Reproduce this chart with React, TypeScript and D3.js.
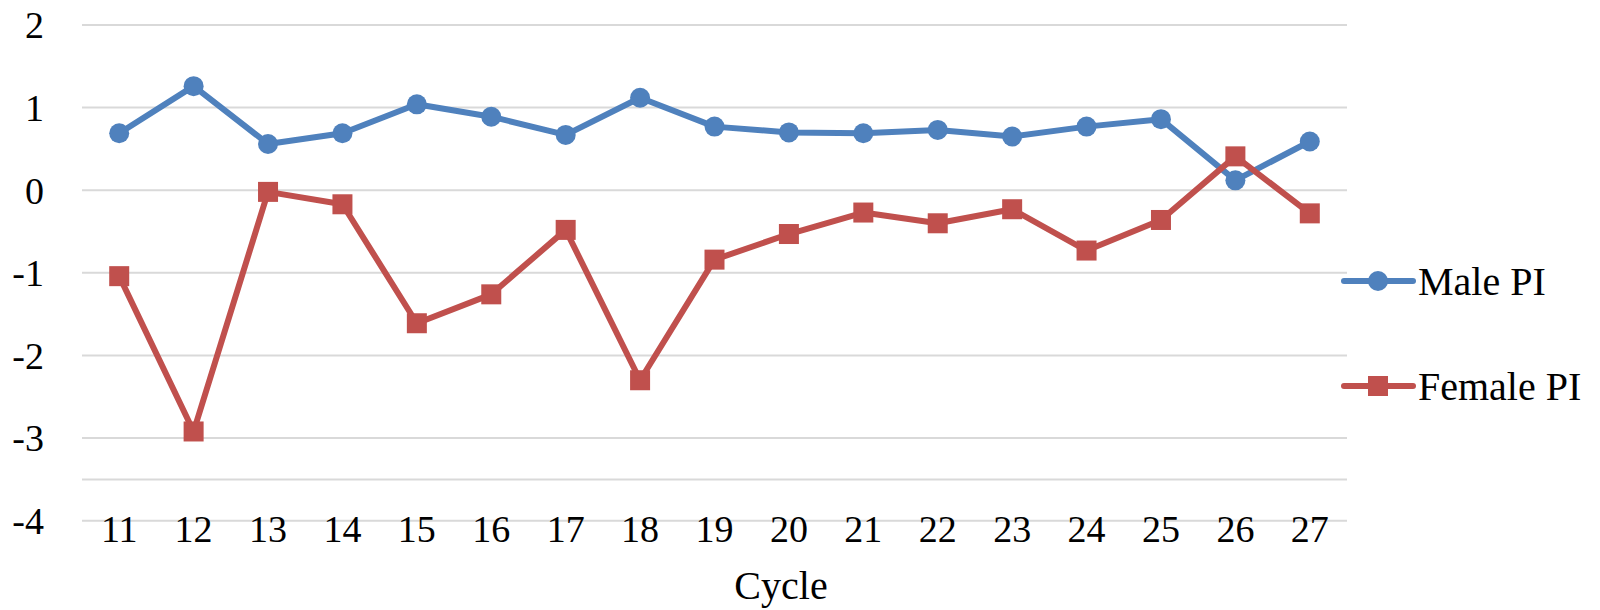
/**
 * Male / Female PI by cycle — line chart with markers, Excel style
 */
import { useEffect, useRef } from 'react';
import * as d3 from 'd3';

const cycles = ['11', '12', '13', '14', '15', '16', '17', '18', '19', '20', '21', '22', '23', '24', '25', '26', '27'];
const malePI = [0.69, 1.26, 0.56, 0.69, 1.04, 0.89, 0.67, 1.12, 0.77, 0.7, 0.69, 0.73, 0.65, 0.77, 0.86, 0.12, 0.59];
const femalePI = [-1.04, -2.92, -0.02, -0.17, -1.61, -1.26, -0.48, -2.3, -0.84, -0.53, -0.27, -0.4, -0.23, -0.73, -0.36, 0.41, -0.28];
const yTicks = [2, 1, 0, -1, -2, -3, -4];
const gridLines = [2, 1, 0, -1, -2, -3, -3.5, -4];

export default function App() {
  const svgRef = useRef<SVGSVGElement>(null);

  useEffect(() => {
    if (!svgRef.current) return;
    const svg = d3.select(svgRef.current);
    svg.selectAll('*').remove();

    const font = 'Liberation Serif, Times New Roman, DejaVu Serif, serif';
    const blue = '#4F81BD', red = '#C0504D';

    const x = d3.scaleBand().domain(cycles).range([82, 1347]).padding(0);
    const cx = (c: string) => (x(c) ?? 0) + x.bandwidth() / 2;
    const y = d3.scaleLinear().domain([-4, 2]).range([520.7, 25]);

    // Gridlines
    svg.append('g').selectAll('line').data(gridLines).enter().append('line')
      .attr('x1', 82).attr('x2', 1347).attr('y1', d => y(d)).attr('y2', d => y(d))
      .attr('stroke', '#D9D9D9').attr('stroke-width', 2);

    // Y labels
    svg.append('g').selectAll('text').data(yTicks).enter().append('text')
      .attr('x', 44).attr('y', d => y(d)).attr('dy', '0.35em').attr('text-anchor', 'end')
      .style('font-family', font).attr('font-size', 38).attr('fill', '#000')
      .text(d => String(d));

    // X labels
    svg.append('g').selectAll('text').data(cycles).enter().append('text')
      .attr('x', d => cx(d)).attr('y', 541.5).attr('text-anchor', 'middle')
      .style('font-family', font).attr('font-size', 38).attr('fill', '#000')
      .text(d => d);

    svg.append('text').attr('x', 781).attr('y', 599).attr('text-anchor', 'middle')
      .style('font-family', font).attr('font-size', 40).attr('fill', '#000').text('Cycle');

    const line = d3.line<number>().x((_, i) => cx(cycles[i])).y(d => y(d));

    // Male
    svg.append('path').datum(malePI).attr('d', line).attr('fill', 'none')
      .attr('stroke', blue).attr('stroke-width', 6).attr('stroke-linejoin', 'round');
    svg.append('g').selectAll('circle').data(malePI).enter().append('circle')
      .attr('cx', (_, i) => cx(cycles[i])).attr('cy', d => y(d)).attr('r', 10).attr('fill', blue);

    // Female
    svg.append('path').datum(femalePI).attr('d', line).attr('fill', 'none')
      .attr('stroke', red).attr('stroke-width', 6).attr('stroke-linejoin', 'round');
    svg.append('g').selectAll('rect').data(femalePI).enter().append('rect')
      .attr('x', (_, i) => cx(cycles[i]) - 10).attr('y', d => y(d) - 10)
      .attr('width', 20).attr('height', 20).attr('fill', red);

    // Legend
    const legend = [
      { name: 'Male PI', color: blue, shape: 'circle', ly: 281 },
      { name: 'Female PI', color: red, shape: 'square', ly: 386 },
    ];
    legend.forEach(l => {
      const g = svg.append('g');
      g.append('line').attr('x1', 1344).attr('x2', 1413).attr('y1', l.ly).attr('y2', l.ly)
        .attr('stroke', l.color).attr('stroke-width', 6).attr('stroke-linecap', 'round');
      if (l.shape === 'circle') g.append('circle').attr('cx', 1378).attr('cy', l.ly).attr('r', 10).attr('fill', l.color);
      else g.append('rect').attr('x', 1368).attr('y', l.ly - 10).attr('width', 20).attr('height', 20).attr('fill', l.color);
      g.append('text').attr('x', 1418).attr('y', l.ly).attr('dy', '0.35em')
        .style('font-family', font).attr('font-size', 40).attr('fill', '#000').text(l.name);
    });
  }, []);

  return (
    <svg ref={svgRef} width={1600} height={610} viewBox="0 0 1600 610"
      style={{ position: 'absolute', left: 0, top: 0, background: '#fff' }} />
  );
}
